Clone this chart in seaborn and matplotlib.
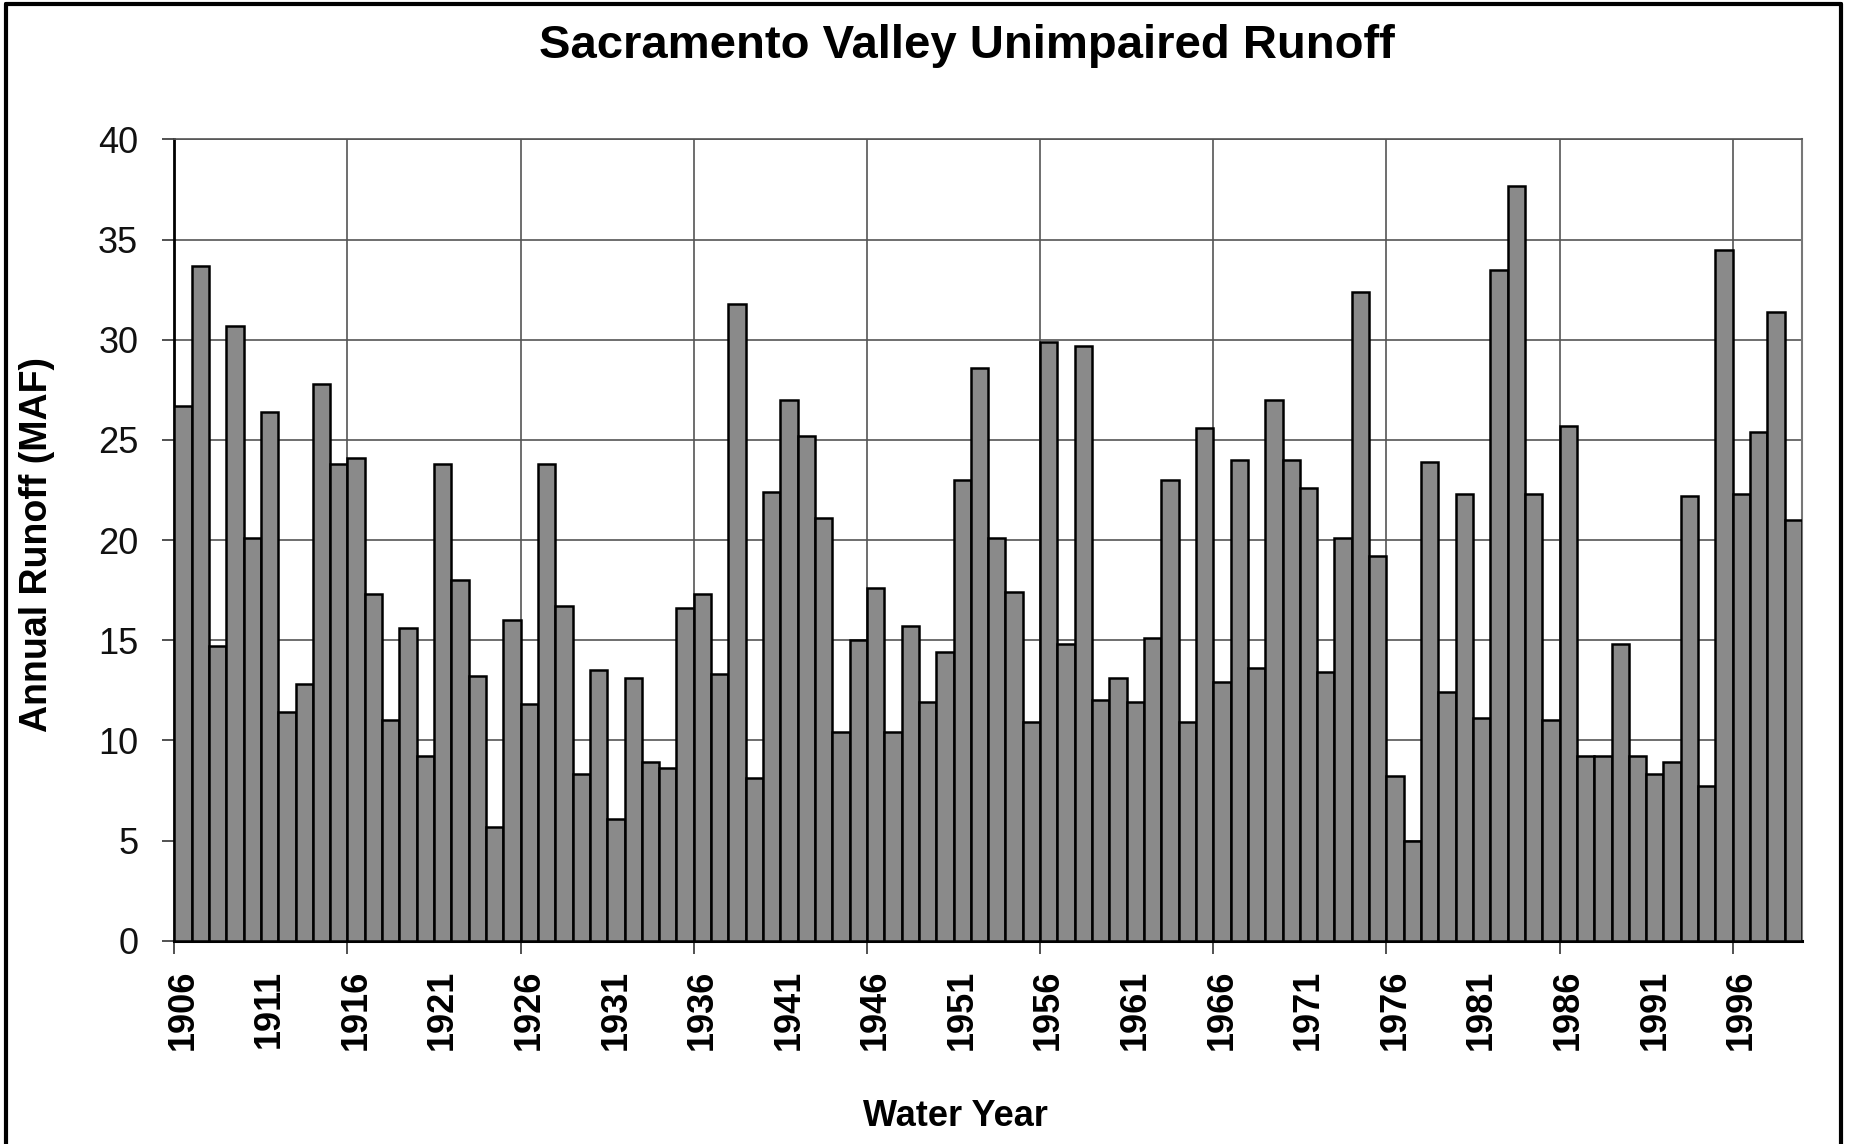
import matplotlib
matplotlib.use('Agg')  # no display

import matplotlib.pyplot as plt
from matplotlib.lines import Line2D
from matplotlib.ticker import FixedLocator, MultipleLocator
import numpy as np
import pandas as pd
import seaborn as sns

# Water years shown on the chart
years = list(range(1906, 2000))

# Annual unimpaired runoff, million acre-feet
runoff = [
    26.7, 33.7, 14.7, 30.7, 20.1, 26.4, 11.4, 12.8, 27.8, 23.8,   # 1906-1915
    24.1, 17.3, 11.0, 15.6, 9.2, 23.8, 18.0, 13.2, 5.7, 16.0,     # 1916-1925
    11.8, 23.8, 16.7, 8.3, 13.5, 6.1, 13.1, 8.9, 8.6, 16.6,       # 1926-1935
    17.3, 13.3, 31.8, 8.1, 22.4, 27.0, 25.2, 21.1, 10.4, 15.0,    # 1936-1945
    17.6, 10.4, 15.7, 11.9, 14.4, 23.0, 28.6, 20.1, 17.4, 10.9,   # 1946-1955
    29.9, 14.8, 29.7, 12.0, 13.1, 11.9, 15.1, 23.0, 10.9, 25.6,   # 1956-1965
    12.9, 24.0, 13.6, 27.0, 24.0, 22.6, 13.4, 20.1, 32.4, 19.2,   # 1966-1975
    8.2, 5.0, 23.9, 12.4, 22.3, 11.1, 33.5, 37.7, 22.3, 11.0,     # 1976-1985
    25.7, 9.2, 9.2, 14.8, 9.2, 8.3, 8.9, 22.2, 7.7, 34.5,         # 1986-1995
    22.3, 25.4, 31.4, 21.0,                                       # 1996-1999
]

label_years = years[::5]
title = "Sacramento Valley Unimpaired Runoff"

sns.set_theme(style='white')
plt.rcParams['font.family'] = ['Liberation Sans', 'DejaVu Sans']
plt.rcParams['text.color'] = 'black'
plt.rcParams['axes.labelcolor'] = 'black'

fig = plt.figure(figsize=(18.53, 11.44), dpi=100)
ax = fig.add_axes([0.09406, 0.17771, 0.87841, 0.70035])

df = pd.DataFrame({'year': [str(y) for y in years], 'runoff': runoff})
sns.barplot(data=df, x='year', y='runoff', color='#8a8a8a', saturation=1,
            width=1.0, edgecolor='black', linewidth=1.8, ax=ax, zorder=3)

n = len(years)
ax.set_xlim(-0.5, n - 0.5)
ax.set_ylim(0, 40)
ax.yaxis.set_major_locator(MultipleLocator(5))

# year labels under bar centres, ticks/grid on the decade boundaries
ax.set_xticks([years.index(y) for y in label_years])
ax.set_xticklabels([str(y) for y in label_years], rotation=90,
                   fontsize=26, fontweight='bold', color='black')
ax.xaxis.set_minor_locator(FixedLocator(np.arange(-0.5, n, 10)))
ax.tick_params(axis='x', which='major', bottom=False, length=0, pad=21)
ax.tick_params(axis='x', which='minor', bottom=True, length=9, width=1.2,
               color='#333333')
ax.tick_params(axis='y', left=True, length=9, width=1.2, pad=17,
               labelsize=26, color='#333333', labelcolor='#111111')

ax.set_axisbelow(True)
ax.grid(False, axis='x', which='major')
ax.grid(True, axis='y', color='#555555', linewidth=1.2)
ax.grid(True, axis='x', which='minor', color='#555555', linewidth=1.2)

for side, col, lw in [('left', 'black', 2.0), ('bottom', 'black', 2.2),
                      ('right', '#777777', 1.5), ('top', '#555555', 1.2)]:
    ax.spines[side].set_visible(True)
    ax.spines[side].set_color(col)
    ax.spines[side].set_linewidth(lw)

ax.set_xlabel("Water Year", fontsize=26, fontweight='bold')
ax.xaxis.set_label_coords(0.480, -0.2197)
ax.xaxis.label.set_va('center')
ax.set_ylabel("Annual Runoff (MAF)", fontsize=27, fontweight='bold')
ax.yaxis.set_label_coords(-0.0844, 0.494)
ax.yaxis.label.set_va('center')
ax.set_title(title, fontsize=34, fontweight='bold', x=0.487, y=1.102, pad=0,
             color='black')

# black frame round the picture (left, top, right)
x0, x1, y1 = 0.00297, 0.99379, 0.9965
for xs, ys in [([x0, x0], [0, y1]), ([x0, x1], [y1, y1]), ([x1, x1], [y1, 0])]:
    fig.add_artist(Line2D(xs, ys, transform=fig.transFigure, color='black', lw=3))

fig.savefig('out.png', dpi=100)
plt.close('all')
